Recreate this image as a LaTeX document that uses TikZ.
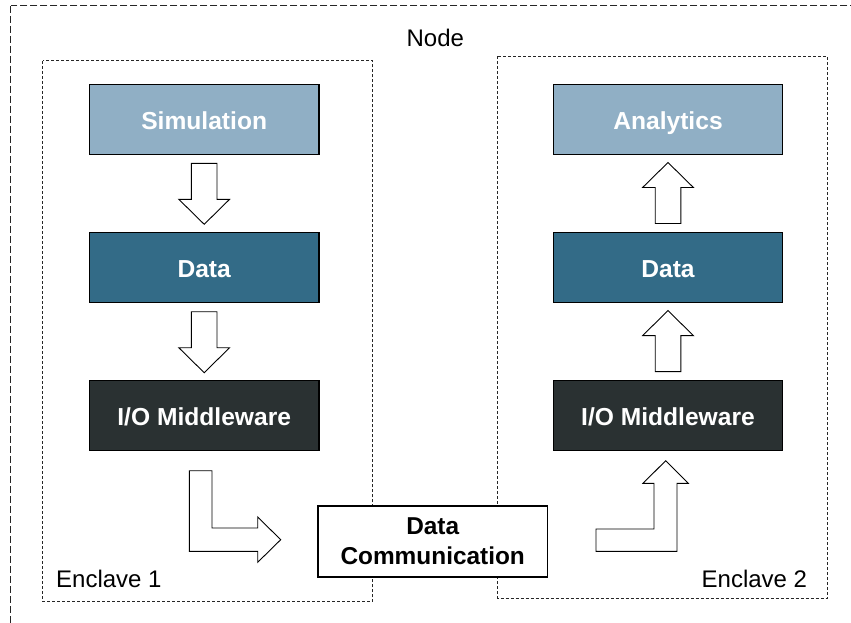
\documentclass[tikz,border=0pt]{standalone}
\usepackage{fontspec}
\setmainfont{Liberation Sans}
\usetikzlibrary{calc}
\definecolor{lightblue}{HTML}{90AFC5}
\definecolor{midblue}{HTML}{336B87}
\definecolor{darkslate}{HTML}{2A3132}
\tikzset{
  layerbox/.style={draw=black, line width=1.2pt, minimum width=229.5pt, minimum height=70pt,
    inner sep=0pt, text=white, text height=25pt, text depth=5pt,
    font=\fontsize{24.6}{30}\selectfont\bfseries},
  blkstyle/.style={draw=black, line width=0.9pt, fill=white, line join=miter},
  outerdash/.style={draw=black!85, line width=1pt, dash pattern=on 7pt off 3pt},
  enclavedash/.style={draw=black!85, line width=1pt, dash pattern=on 3pt off 2pt},
  lbl/.style={inner sep=0pt, font=\fontsize{24}{30}\selectfont},
  blkdown/.pic={\path[blkstyle] (-12.8,0)--(-12.8,36)--(-25.4,36)--(0,61)--(25.4,36)--(12.8,36)--(12.8,0)--cycle;},
  blkup/.pic={\path[blkstyle] (-12.8,0)--(-12.8,-36)--(-25.4,-36)--(0,-61)--(25.4,-36)--(12.8,-36)--(12.8,0)--cycle;}
}
\begin{document}
\begin{tikzpicture}[x=1pt,y=-1pt]
\useasboundingbox (0,0) rectangle (851,623);
\clip (0,0) rectangle (851,623);
\fill[white] (0,0) rectangle (851,623);
% outer node box
\draw[outerdash] (10.7,6) rectangle (880,650);
% enclaves
\draw[enclavedash] (42.7,61) rectangle (372.7,601.7);
\draw[enclavedash] (497.3,56.3) rectangle (827.3,598);
% labels
\node[lbl, anchor=base] (nodelbl) at (435.3,46.7) {Node};
\node[lbl, anchor=base west] (enc1) at (56,587.7) {Enclave 1};
\node[lbl, anchor=base east] (enc2) at (807.3,587.7) {Enclave 2};
% left column
\node[layerbox, fill=lightblue] (sim) at (204.2,119.3) {Simulation};
\node[layerbox, fill=midblue] (data1) at (204.2,267.7) {Data};
\node[layerbox, fill=darkslate] (io1) at (204.2,415.8) {I/O Middleware};
% right column
\node[layerbox, fill=lightblue] (ana) at (668,119.3) {Analytics};
\node[layerbox, fill=midblue] (data2) at (668,267.7) {Data};
\node[layerbox, fill=darkslate] (io2) at (668,415.8) {I/O Middleware};
% data communication
\node[draw=black, line width=1.2pt, fill=white, minimum width=229.3pt, minimum height=71pt,
  inner sep=0pt, align=center, font=\fontsize{24.4}{30.3}\selectfont\bfseries] (comm) at (432.7,541.5)
  {Data\\Communication};
% straight block arrows
\pic at ($(sim.south)+(0,8.4)$) {blkdown};
\pic at ($(data1.south)+(0,8.4)$) {blkdown};
\pic at ($(data2.north)+(0,-8.6)$) {blkup};
\pic at ($(io2.north)+(0,-8.6)$) {blkup};
% bent block arrows
\path[blkstyle] (189.3,470.7) -- (212,470.7) -- (212,528) -- (257.7,528) -- (257.7,517)
  -- (280.7,539.7) -- (257.7,562.3) -- (257.7,551.3) -- (189.3,551.3) -- cycle;
\path[blkstyle] (596,529) -- (654,529) -- (654,483.3) -- (643,483.3) -- (665.7,460.7)
  -- (688.3,483.3) -- (677,483.3) -- (677,551.3) -- (596,551.3) -- cycle;
\end{tikzpicture}
\end{document}
